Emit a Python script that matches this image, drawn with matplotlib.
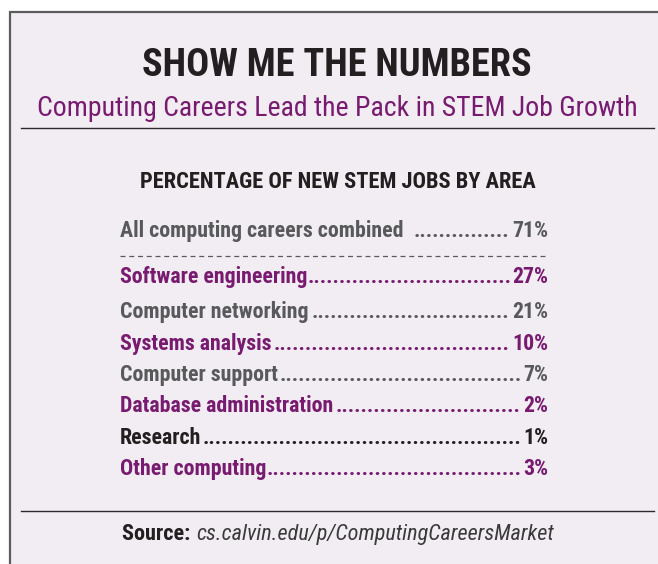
import matplotlib
matplotlib.use("Agg")
import matplotlib.pyplot as plt
from matplotlib.patches import Rectangle
from matplotlib.lines import Line2D

# ---------------- data ----------------
title = "SHOW ME THE NUMBERS"
subtitle = "Computing Careers Lead the Pack in STEM Job Growth"
heading = "PERCENTAGE OF NEW STEM JOBS BY AREA"
categories = ["All computing careers combined", "Software engineering",
              "Computer networking", "Systems analysis", "Computer support",
              "Database administration", "Research", "Other computing"]
values = [71, 27, 21, 10, 7, 2, 1, 3]
source_label = "Source:"
source_url = "cs.calvin.edu/p/ComputingCareersMarket"

# ---------------- styles ----------------
GRAY = "#58595b"
PURPLE = "#781b70"
BLACK = "#231f20"
BG = "#f2edf3"
row_colors = [GRAY, PURPLE, GRAY, PURPLE, GRAY, PURPLE, BLACK, PURPLE]
FAM = ["Roboto Condensed", "DejaVu Sans"]

W, H = 658, 564
fig = plt.figure(figsize=(W / 100, H / 100), dpi=100)
fig.patch.set_facecolor("white")
ax = fig.add_axes([0, 0, 1, 1])
ax.set_xlim(0, W)
ax.set_ylim(H, 0)
ax.axis("off")
renderer = fig.canvas.get_renderer()


def width_of(t):
    return t.get_window_extent(renderer).width


def fit(t, target):
    t.set_fontsize(20)
    w = width_of(t)
    t.set_fontsize(20 * target / w)
    return t


# frame
ax.add_patch(Rectangle((10, 12), W + 20, H + 20, facecolor=BG,
                       edgecolor="#5c5c5c", lw=1.6, zorder=0))

# title
t = ax.text(337, 76.5, title, ha="center", va="baseline", color=BLACK,
            family=FAM, weight="bold")
fit(t, 390)
t = ax.text(337, 116.5, subtitle, ha="center", va="baseline", color=PURPLE,
            family=FAM)
fit(t, 600)

# rules
ax.add_line(Line2D([20.5, 653.5], [128.3, 128.3], color="#2a2a2a", lw=1.0))
ax.add_line(Line2D([20.5, 653.5], [511, 511], color="#2a2a2a", lw=1.0))

# heading
t = ax.text(337.5, 188.5, heading, ha="center", va="baseline", color=BLACK,
            family=FAM, weight="bold")
fit(t, 396)

# rows
LX, RX = 120, 548
baselines = [237, 283, 318, 350, 381, 412, 444, 475]
probe = ax.text(0, 0, categories[0], family=FAM, weight="bold")
fit(probe, 283)
row_fs = probe.get_fontsize()
probe.remove()

dot_probe = ax.text(0, 0, "." * 40, family=FAM, weight="bold", fontsize=row_fs)
dot_w = width_of(dot_probe) / 40
dot_probe.remove()

for i, (cat, val, col, yb) in enumerate(zip(categories, values, row_colors, baselines)):
    lt = ax.text(LX, yb, cat, ha="left", va="baseline", color=col,
                 family=FAM, weight="bold", fontsize=row_fs)
    vt = ax.text(RX, yb, f"{val}%", ha="right", va="baseline", color=col,
                 family=FAM, weight="bold", fontsize=row_fs)
    lw_ = width_of(lt)
    vw_ = width_of(vt)
    gap_l = 7 if i == 0 else 0
    x0 = LX + lw_ + gap_l
    x1 = RX - vw_
    n = max(int((x1 - x0) / dot_w), 0)
    xc = (x0 + x1) / 2
    ax.text(xc, yb, "." * n, ha="center", va="baseline", color=col,
            family=FAM, weight="bold", fontsize=row_fs)

# dashed separator
ax.add_line(Line2D([LX, RX], [255.5, 255.5], color="#5a5a5a", lw=0.9,
                   linestyle=(0, (4, 3))))

# source
s1 = ax.text(0, 540, source_label + " ", ha="left", va="baseline", color=BLACK,
             family=FAM, weight="bold")
s2 = ax.text(0, 540, source_url, ha="left", va="baseline", color="#3a3a3a",
             family=FAM, style="italic")
s1.set_fontsize(20); s2.set_fontsize(20)
tot = width_of(s1) + width_of(s2)
fs = 20 * 431 / tot
s1.set_fontsize(fs); s2.set_fontsize(fs)
w1 = width_of(s1)
s1.set_x(122.5)
s2.set_x(122.5 + w1)

fig.savefig("out.png", dpi=100, facecolor="white")
